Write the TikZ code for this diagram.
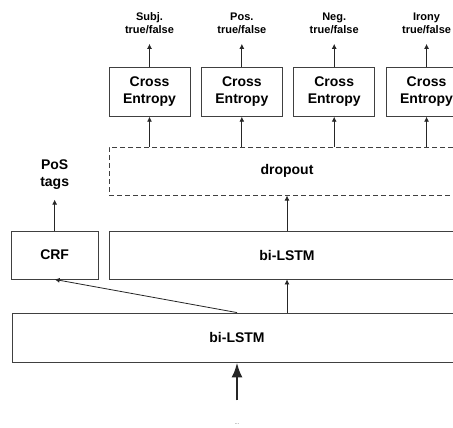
\documentclass[tikz,border=0pt]{standalone}
\usepackage{fontspec}
\setmainfont{Liberation Sans}
\usepackage{tikz}
\usetikzlibrary{arrows.meta,positioning}

\begin{document}
\begin{tikzpicture}[
  x=1pt, y=-1pt,
  node distance=10pt and 10.5pt,
  font=\fontsize{14}{17}\selectfont\bfseries,
  box/.style={draw=black!75, line width=0.85pt, align=center,
              minimum height=48pt, inner sep=0pt},
  ce/.style={box, minimum width=81pt, minimum height=49pt},
  layer/.style={box, minimum width=356pt},
  drop/.style={layer, dashed, dash pattern=on 5pt off 3pt},
  outlbl/.style={align=center, inner sep=0pt, outer ysep=10pt,
                 font=\fontsize{11}{13.5}\selectfont\bfseries},
  tags/.style={outlbl, font=\fontsize{14}{17}\selectfont\bfseries},
  arr/.style={-{Latex[length=5pt,width=5pt]}, line width=0.8pt, draw=black!85},
  big/.style={-{Latex[length=15pt,width=11pt]}, line width=2.6pt, draw=black!85},
]
\path[use as bounding box] (0,0) rectangle (453,428);
\clip (0,0) rectangle (453,428);

% layers
\node[box, minimum width=450pt, minimum height=49pt] (lstmA) at (237,337.5) {bi-LSTM};
\node[layer] (lstmB) at (287,255) {bi-LSTM};
\node[box, minimum width=87pt, left=10pt of lstmB] (crf) {CRF};
\node[drop, above=35pt of lstmB] (drop) {dropout};

% one loss per task
\node[ce, above=30pt of drop.north west, anchor=south west] (ce1) {Cross\\Entropy};
\node[ce, right=of ce1] (ce2) {Cross\\Entropy};
\node[ce, right=of ce2] (ce3) {Cross\\Entropy};
\node[ce, right=of ce3] (ce4) {Cross\\Entropy};

\node[outlbl, above=23pt of ce1] (subj) {Subj.\\true/false};
\node[outlbl, above=23pt of ce2] (pos) {Pos.\\true/false};
\node[outlbl, above=23pt of ce3] (neg) {Neg.\\true/false};
\node[outlbl, above=23pt of ce4] (irony) {Irony\\true/false};
\node[tags, above=31pt of crf] (postags) {PoS\\tags};

% input
\coordinate[below=38pt of lstmA] (in);
\node[font=\fontsize{6}{7}\selectfont, text=black!60, below=20pt of in] (dots) {...};

\draw[big] (in) -- (lstmA);
\draw[arr] (lstmA.north) -- (crf.south);
\draw[arr] (lstmB.south |- lstmA.north) -- (lstmB);
\draw[arr] (lstmB) -- (drop);
\draw[arr] (crf) -- (postags);
\draw[arr] (ce1.south |- drop.north) -- (ce1);
\draw[arr] (ce2.south |- drop.north) -- (ce2);
\draw[arr] (ce3.south |- drop.north) -- (ce3);
\draw[arr] (ce4.south |- drop.north) -- (ce4);
\draw[arr] (ce1) -- (subj);
\draw[arr] (ce2) -- (pos);
\draw[arr] (ce3) -- (neg);
\draw[arr] (ce4) -- (irony);
\end{tikzpicture}
\end{document}
